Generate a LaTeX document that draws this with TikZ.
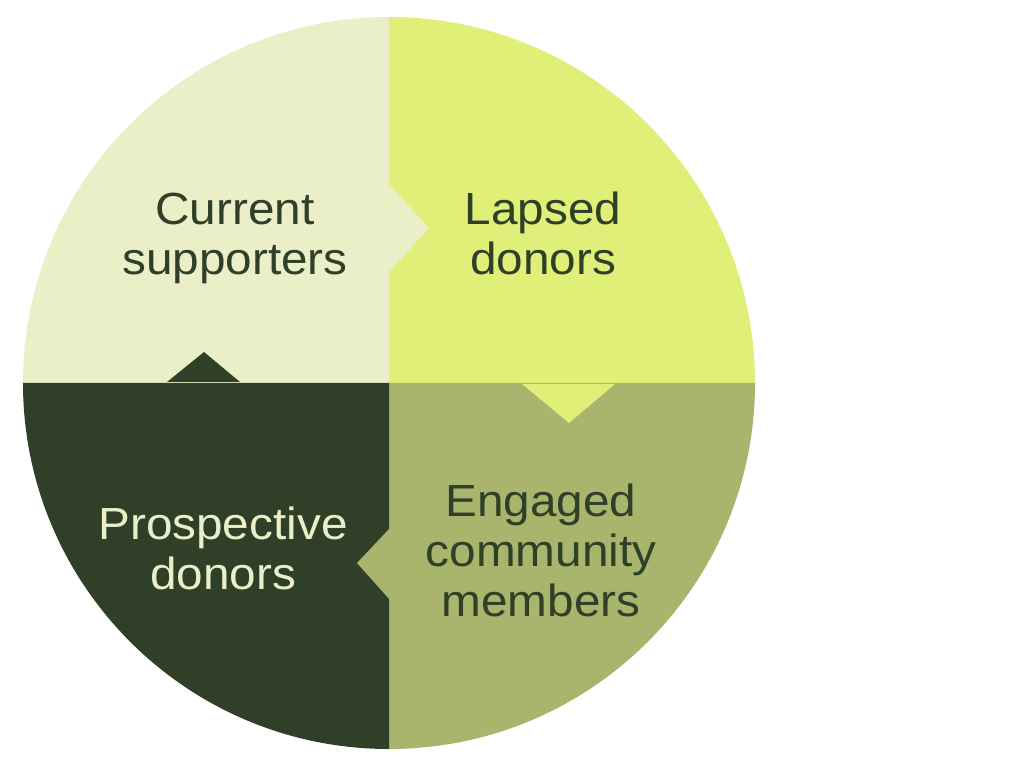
\documentclass[tikz,border=0pt]{standalone}
\usepackage{fontspec}
\setmainfont{Liberation Sans}[FakeStretch=1.06]
\definecolor{cpale}{HTML}{EAEFC8}
\definecolor{clime}{HTML}{E0EF78}
\definecolor{colive}{HTML}{A9B56C}
\definecolor{cdark}{HTML}{2F3F28}
\tikzset{
  lbl/.style={align=center, font=\fontsize{45}{50}\selectfont, inner sep=0pt},
  darktxt/.style={lbl, text=cdark},
  lighttxt/.style={lbl, text=cpale},
}
\begin{document}
\begin{tikzpicture}[x=1pt,y=1pt]
\useasboundingbox (0,0) rectangle (1024,768);
\fill[white] (0,0) rectangle (1024,768);
% quadrants
\fill[cpale] (389,385) -- (23,385) arc (180:90:366) -- cycle;
\fill[clime] (389,385) -- (389,751) arc (90:0:366) -- cycle;
\fill[colive] (389,385) -- (755,385) arc (0:-90:366) -- cycle;
\fill[cdark] (389,385) -- (389,19) arc (270:180:366) -- cycle;
% notches
\fill[cpale] (388,585) -- (429,540) -- (388,495) -- cycle;
\fill[cdark] (167,386) -- (204,416) -- (240,386) -- cycle;
\fill[clime] (522,384) -- (569,345) -- (615,384) -- cycle;
\fill[colive] (390,240) -- (357,205) -- (390,168) -- cycle;
% labels
\node[darktxt] (cur) at (235,530) {Current\\supporters};
\node[darktxt] (lap) at (543,535) {Lapsed\\donors};
\node[darktxt] (eng) at (541,218) {Engaged\\community\\members};
\node[lighttxt] (pro) at (223,220) {Prospective\\donors};
\end{tikzpicture}
\end{document}
